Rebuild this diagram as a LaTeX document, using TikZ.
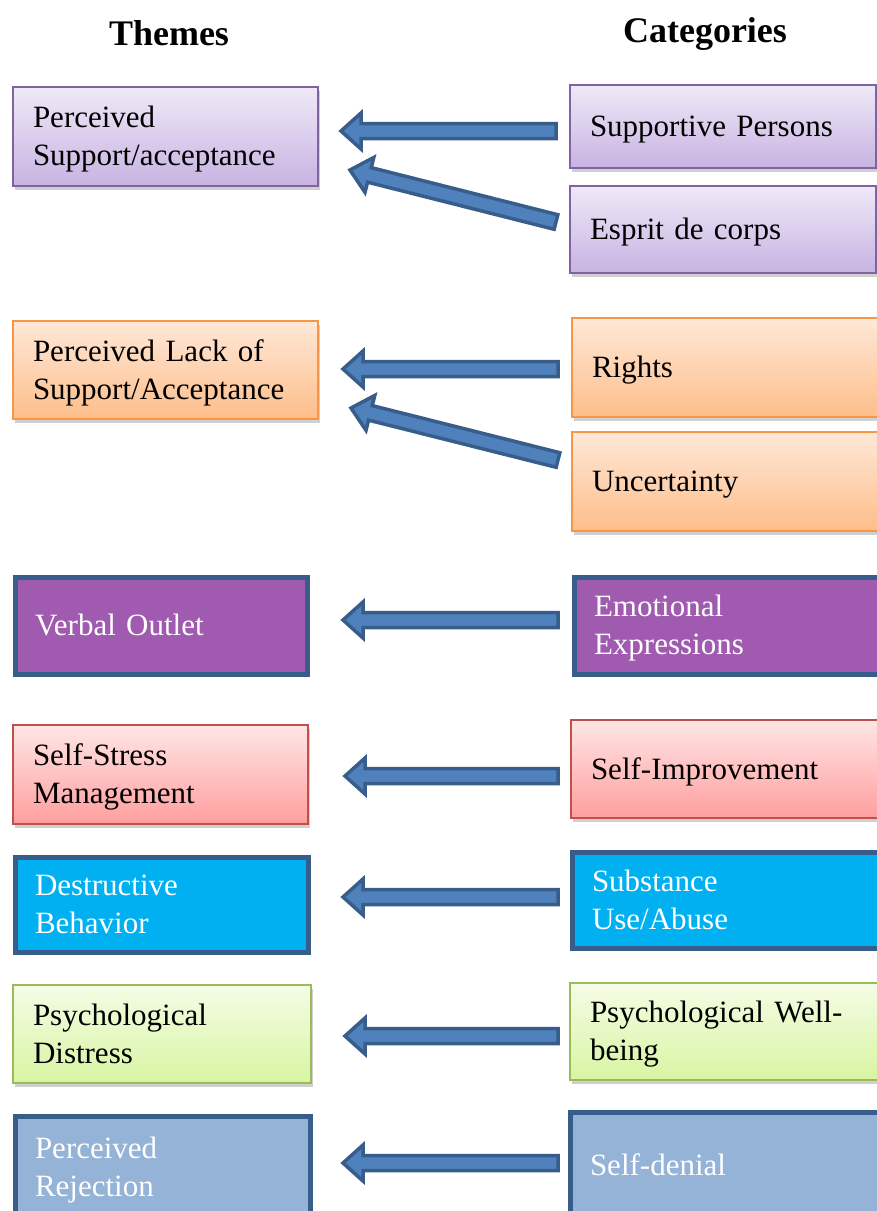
\documentclass[tikz,border=0pt]{standalone}
\usepackage{fontspec}
\setmainfont{Liberation Serif}
\usetikzlibrary{calc,shadows}
\definecolor{lavtop}{HTML}{EFE9F7}
\definecolor{lavbot}{HTML}{C8B3E2}
\definecolor{lavdraw}{HTML}{8064A2}
\definecolor{ortop}{HTML}{FFE8D8}
\definecolor{orbot}{HTML}{FDBE8A}
\definecolor{ordraw}{HTML}{F79646}
\definecolor{redtop}{HTML}{FFE6E6}
\definecolor{redbot}{HTML}{FF9E9E}
\definecolor{reddraw}{HTML}{C0504D}
\definecolor{grtop}{HTML}{F5FCE6}
\definecolor{grbot}{HTML}{D8F5A2}
\definecolor{grdraw}{HTML}{9BBB59}
\definecolor{purfill}{HTML}{A05AB0}
\definecolor{cyanfill}{HTML}{00B0F0}
\definecolor{lbfill}{HTML}{95B3D7}
\definecolor{darkbd}{HTML}{385D8A}
\definecolor{arrfill}{HTML}{4F81BD}
\newcommand\wordstrut{\rule[-0.216em]{0pt}{1.107em}}
\tikzset{
  box/.style={inner xsep=20pt, inner ysep=0pt, align=left, font=\fontsize{31}{38}\selectfont,
    execute at begin node={\wordstrut}, execute at end node={\wordstrut}},
  softbox/.style={box, line width=1.3pt, drop shadow={shadow xshift=1.5pt, shadow yshift=-3.5pt, opacity=0.3, fill=black!60}},
  lav/.style={softbox, draw=lavdraw, top color=lavtop, bottom color=lavbot},
  ora/.style={softbox, draw=ordraw, top color=ortop, bottom color=orbot},
  rdb/.style={softbox, draw=reddraw, top color=redtop, bottom color=redbot},
  grn/.style={softbox, draw=grdraw, top color=grtop, bottom color=grbot},
  hardbox/.style={box, line width=5pt, draw=darkbd, text=white},
  pur/.style={hardbox, fill=purfill},
  cya/.style={hardbox, fill=cyanfill},
  lbl/.style={hardbox, fill=lbfill},
  heading/.style={font=\fontsize{36}{40}\selectfont\bfseries},
  blockarr/.style={draw=darkbd, fill=arrfill, line width=3.5pt, line join=miter}
}
\newcommand\blockarrow[2]{%
  \coordinate (ba-p) at ($(#2)!20pt!(#1)$);
  \draw[blockarr] ($(#1)!7.5pt!90:(#2)$) -- ($(ba-p)!7.5pt!90:(#2)$) -- ($(ba-p)!18pt!90:(#2)$) -- (#2)
    -- ($(ba-p)!18pt!-90:(#2)$) -- ($(ba-p)!7.5pt!-90:(#2)$) -- ($(#1)!7.5pt!-90:(#2)$) -- cycle;}
\begin{document}
\begin{tikzpicture}[x=1pt,y=-1pt]
\useasboundingbox (0,0) rectangle (877,1211);
\clip (0,0) rectangle (877,1211);
\fill[white] (0,0) rectangle (877,1211);
\node[heading] (themes) at (169,33) {Themes};
\node[heading] (cats) at (705,34) {Categories};
% row 1
\node[lav, minimum width=305pt, minimum height=99pt, text width=265pt] (l1) at (165.5,136.5) {Perceived\\Support/acceptance};
\node[lav, minimum width=306pt, minimum height=83pt, text width=266pt] (r1a) at (723,126.5) {Supportive Persons};
\node[lav, minimum width=306pt, minimum height=87pt, text width=266pt] (r1b) at (723,229.5) {Esprit de corps};
% row 2
\node[ora, minimum width=305pt, minimum height=98pt, text width=265pt] (l2) at (165.5,370) {Perceived Lack of\\Support/Acceptance};
\node[ora, minimum width=308pt, minimum height=99pt, text width=268pt] (r2a) at (726,367.5) {Rights};
\node[ora, minimum width=308pt, minimum height=99pt, text width=268pt] (r2b) at (726,481.5) {Uncertainty};
% row 3
\node[pur, minimum width=292pt, minimum height=97pt, text width=252pt] (l3) at (161,625.5) {Verbal Outlet};
\node[pur, minimum width=306pt, minimum height=97pt, text width=266pt] (r3) at (727,625.5) {Emotional\\Expressions};
% row 4
\node[rdb, minimum width=295pt, minimum height=99pt, text width=255pt] (l4) at (160.5,774.5) {Self-Stress\\Management};
\node[rdb, minimum width=309pt, minimum height=98pt, text width=269pt] (r4) at (725.5,769) {Self-Improvement};
% row 5
\node[cya, minimum width=293pt, minimum height=95pt, text width=253pt] (l5) at (161.5,904.5) {Destructive\\Behavior};
\node[cya, minimum width=308pt, minimum height=96pt, text width=268pt] (r5) at (726,900) {Substance\\Use/Abuse};
% row 6
\node[grn, minimum width=298pt, minimum height=98pt, text width=258pt] (l6) at (162,1034) {Psychological\\Distress};
\node[grn, minimum width=310pt, minimum height=97pt, text width=270pt] (r6) at (725,1031.5) {Psychological Well-\\being};
% row 7
\node[lbl, minimum width=295pt, minimum height=102pt, text width=255pt] (l7) at (162.5,1167) {Perceived\\Rejection};
\node[lbl, minimum width=310pt, minimum height=106pt, text width=270pt] (r7) at (725,1165) {Self-denial};
% arrow end points
\coordinate (t1) at (556,131);  \coordinate (h1) at (341,131);
\coordinate (t2) at (556,222);  \coordinate (h2) at (350,170);
\coordinate (t3) at (558,369);  \coordinate (h3) at (343,369);
\coordinate (t4) at (558,460);  \coordinate (h4) at (351,408);
\coordinate (t5) at (558,620);  \coordinate (h5) at (343,620);
\coordinate (t6) at (558,776);  \coordinate (h6) at (345,776);
\coordinate (t7) at (558,897);  \coordinate (h7) at (343,897);
\coordinate (t8) at (558,1036); \coordinate (h8) at (345,1036);
\coordinate (t9) at (558,1163); \coordinate (h9) at (343,1163);
\blockarrow{t1}{h1}
\blockarrow{t2}{h2}
\blockarrow{t3}{h3}
\blockarrow{t4}{h4}
\blockarrow{t5}{h5}
\blockarrow{t6}{h6}
\blockarrow{t7}{h7}
\blockarrow{t8}{h8}
\blockarrow{t9}{h9}
\end{tikzpicture}
\end{document}
